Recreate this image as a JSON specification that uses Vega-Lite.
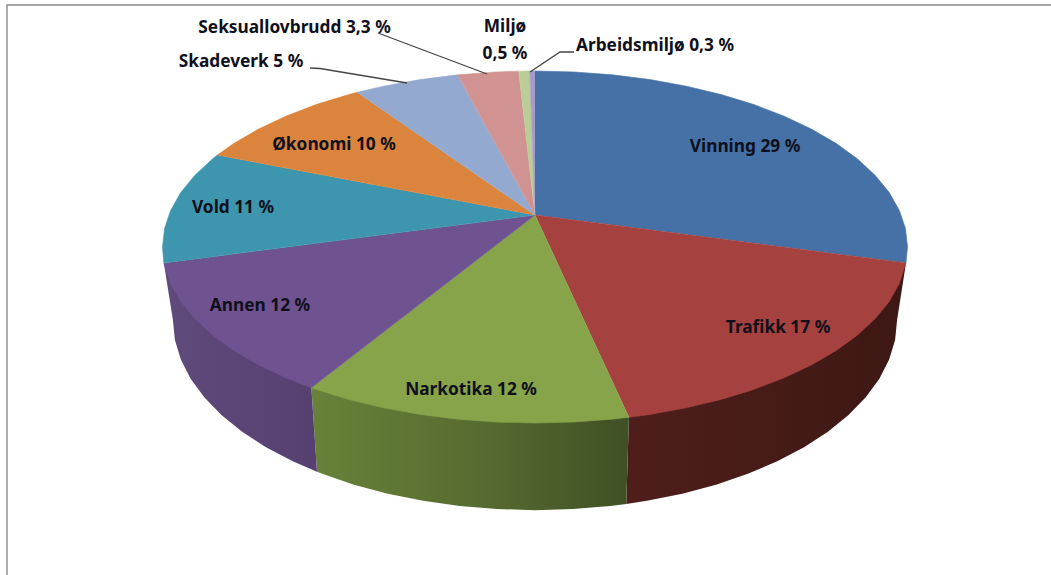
{
"$schema":"https://vega.github.io/schema/vega-lite/v6.json",
"width":1051,"height":575,"padding":0,"autosize":{"type":"none"},
"background":"white","config":{"view":{"stroke":null}},
"datasets":{
"skiver":[
{"kategori":"Vinning","del":"topp","n":0,"x":0,"y":0.1818},{"kategori":"Vinning","del":"topp","n":1,"x":0,"y":1},{"kategori":"Vinning","del":"topp","n":2,"x":0.1045,"y":0.9945},{"kategori":"Vinning","del":"topp","n":3,"x":0.2079,"y":0.9781},{"kategori":"Vinning","del":"topp","n":4,"x":0.309,"y":0.9511},{"kategori":"Vinning","del":"topp","n":5,"x":0.4067,"y":0.9135},{"kategori":"Vinning","del":"topp","n":6,"x":0.5,"y":0.866},{"kategori":"Vinning","del":"topp","n":7,"x":0.5878,"y":0.809},{"kategori":"Vinning","del":"topp","n":8,"x":0.6691,"y":0.7431},{"kategori":"Vinning","del":"topp","n":9,"x":0.7431,"y":0.6691},{"kategori":"Vinning","del":"topp","n":10,"x":0.809,"y":0.5878},{"kategori":"Vinning","del":"topp","n":11,"x":0.866,"y":0.5},{"kategori":"Vinning","del":"topp","n":12,"x":0.9135,"y":0.4067},{"kategori":"Vinning","del":"topp","n":13,"x":0.9511,"y":0.309},{"kategori":"Vinning","del":"topp","n":14,"x":0.9781,"y":0.2079},{"kategori":"Vinning","del":"topp","n":15,"x":0.9945,"y":0.1045},{"kategori":"Vinning","del":"topp","n":16,"x":1,"y":0},{"kategori":"Vinning","del":"topp","n":17,"x":0.9959,"y":-0.0906},
{"kategori":"Trafikk","del":"topp","n":0,"x":0,"y":0.1818},{"kategori":"Trafikk","del":"topp","n":1,"x":0.9959,"y":-0.0906},{"kategori":"Trafikk","del":"topp","n":2,"x":0.9781,"y":-0.2079},{"kategori":"Trafikk","del":"topp","n":3,"x":0.9511,"y":-0.309},{"kategori":"Trafikk","del":"topp","n":4,"x":0.9135,"y":-0.4067},{"kategori":"Trafikk","del":"topp","n":5,"x":0.866,"y":-0.5},{"kategori":"Trafikk","del":"topp","n":6,"x":0.809,"y":-0.5878},{"kategori":"Trafikk","del":"topp","n":7,"x":0.7431,"y":-0.6691},{"kategori":"Trafikk","del":"topp","n":8,"x":0.6691,"y":-0.7431},{"kategori":"Trafikk","del":"topp","n":9,"x":0.5878,"y":-0.809},{"kategori":"Trafikk","del":"topp","n":10,"x":0.5,"y":-0.866},{"kategori":"Trafikk","del":"topp","n":11,"x":0.4067,"y":-0.9135},{"kategori":"Trafikk","del":"topp","n":12,"x":0.309,"y":-0.9511},{"kategori":"Trafikk","del":"topp","n":13,"x":0.2521,"y":-0.9677},
{"kategori":"Narkotika","del":"topp","n":0,"x":0,"y":0.1818},{"kategori":"Narkotika","del":"topp","n":1,"x":0.2521,"y":-0.9677},{"kategori":"Narkotika","del":"topp","n":2,"x":0.2079,"y":-0.9781},{"kategori":"Narkotika","del":"topp","n":3,"x":0.1045,"y":-0.9945},{"kategori":"Narkotika","del":"topp","n":4,"x":0,"y":-1},{"kategori":"Narkotika","del":"topp","n":5,"x":-0.1045,"y":-0.9945},{"kategori":"Narkotika","del":"topp","n":6,"x":-0.2079,"y":-0.9781},{"kategori":"Narkotika","del":"topp","n":7,"x":-0.309,"y":-0.9511},{"kategori":"Narkotika","del":"topp","n":8,"x":-0.4067,"y":-0.9135},{"kategori":"Narkotika","del":"topp","n":9,"x":-0.5,"y":-0.866},{"kategori":"Narkotika","del":"topp","n":10,"x":-0.5878,"y":-0.809},{"kategori":"Narkotika","del":"topp","n":11,"x":-0.6004,"y":-0.7997},
{"kategori":"Annen","del":"topp","n":0,"x":0,"y":0.1818},{"kategori":"Annen","del":"topp","n":1,"x":-0.6004,"y":-0.7997},{"kategori":"Annen","del":"topp","n":2,"x":-0.6691,"y":-0.7431},{"kategori":"Annen","del":"topp","n":3,"x":-0.7431,"y":-0.6691},{"kategori":"Annen","del":"topp","n":4,"x":-0.809,"y":-0.5878},{"kategori":"Annen","del":"topp","n":5,"x":-0.866,"y":-0.5},{"kategori":"Annen","del":"topp","n":6,"x":-0.9135,"y":-0.4067},{"kategori":"Annen","del":"topp","n":7,"x":-0.9511,"y":-0.309},{"kategori":"Annen","del":"topp","n":8,"x":-0.9781,"y":-0.2079},{"kategori":"Annen","del":"topp","n":9,"x":-0.9964,"y":-0.0906},
{"kategori":"Vold","del":"topp","n":0,"x":0,"y":0.1818},{"kategori":"Vold","del":"topp","n":1,"x":-0.9964,"y":-0.0906},{"kategori":"Vold","del":"topp","n":2,"x":-1,"y":0},{"kategori":"Vold","del":"topp","n":3,"x":-0.9945,"y":0.1045},{"kategori":"Vold","del":"topp","n":4,"x":-0.9781,"y":0.2079},{"kategori":"Vold","del":"topp","n":5,"x":-0.9511,"y":0.309},{"kategori":"Vold","del":"topp","n":6,"x":-0.9135,"y":0.4067},{"kategori":"Vold","del":"topp","n":7,"x":-0.866,"y":0.5},{"kategori":"Vold","del":"topp","n":8,"x":-0.8526,"y":0.5225},
{"kategori":"Økonomi","del":"topp","n":0,"x":0,"y":0.1818},{"kategori":"Økonomi","del":"topp","n":1,"x":-0.8526,"y":0.5225},{"kategori":"Økonomi","del":"topp","n":2,"x":-0.809,"y":0.5878},{"kategori":"Økonomi","del":"topp","n":3,"x":-0.7431,"y":0.6691},{"kategori":"Økonomi","del":"topp","n":4,"x":-0.6691,"y":0.7431},{"kategori":"Økonomi","del":"topp","n":5,"x":-0.5878,"y":0.809},{"kategori":"Økonomi","del":"topp","n":6,"x":-0.5,"y":0.866},{"kategori":"Økonomi","del":"topp","n":7,"x":-0.4772,"y":0.8788},
{"kategori":"Skadeverk","del":"topp","n":0,"x":0,"y":0.1818},{"kategori":"Skadeverk","del":"topp","n":1,"x":-0.4772,"y":0.8788},{"kategori":"Skadeverk","del":"topp","n":2,"x":-0.4067,"y":0.9135},{"kategori":"Skadeverk","del":"topp","n":3,"x":-0.309,"y":0.9511},{"kategori":"Skadeverk","del":"topp","n":4,"x":-0.2079,"y":0.9781},
{"kategori":"Seksuallovbrudd","del":"topp","n":0,"x":0,"y":0.1818},{"kategori":"Seksuallovbrudd","del":"topp","n":1,"x":-0.2079,"y":0.9781},{"kategori":"Seksuallovbrudd","del":"topp","n":2,"x":-0.1045,"y":0.9945},{"kategori":"Seksuallovbrudd","del":"topp","n":3,"x":-0.0436,"y":0.999},
{"kategori":"Miljø","del":"topp","n":0,"x":0,"y":0.1818},{"kategori":"Miljø","del":"topp","n":1,"x":-0.0436,"y":0.999},{"kategori":"Miljø","del":"topp","n":2,"x":-0.014,"y":1},
{"kategori":"Arbeidsmiljø","del":"topp","n":0,"x":0,"y":0.1818},{"kategori":"Arbeidsmiljø","del":"topp","n":1,"x":-0.014,"y":1},{"kategori":"Arbeidsmiljø","del":"topp","n":2,"x":0,"y":1},
{"kategori":"Trafikk","del":"side","n":0,"x":0.9959,"y":-0.0906},{"kategori":"Trafikk","del":"side","n":1,"x":0.972,"y":-0.415},{"kategori":"Trafikk","del":"side","n":2,"x":0.9667,"y":-0.5279},{"kategori":"Trafikk","del":"side","n":3,"x":0.9507,"y":-0.6395},{"kategori":"Trafikk","del":"side","n":4,"x":0.9245,"y":-0.7487},{"kategori":"Trafikk","del":"side","n":5,"x":0.8879,"y":-0.8542},{"kategori":"Trafikk","del":"side","n":6,"x":0.8418,"y":-0.955},{"kategori":"Trafikk","del":"side","n":7,"x":0.7863,"y":-1.0498},{"kategori":"Trafikk","del":"side","n":8,"x":0.7223,"y":-1.1376},{"kategori":"Trafikk","del":"side","n":9,"x":0.6504,"y":-1.2175},{"kategori":"Trafikk","del":"side","n":10,"x":0.5713,"y":-1.2887},{"kategori":"Trafikk","del":"side","n":11,"x":0.486,"y":-1.3503},{"kategori":"Trafikk","del":"side","n":12,"x":0.3953,"y":-1.4016},{"kategori":"Trafikk","del":"side","n":13,"x":0.3003,"y":-1.4422},{"kategori":"Trafikk","del":"side","n":14,"x":0.245,"y":-1.4601},{"kategori":"Trafikk","del":"side","n":15,"x":0.2521,"y":-0.9677},
{"kategori":"Narkotika","del":"side","n":0,"x":0.2521,"y":-0.9677},{"kategori":"Narkotika","del":"side","n":1,"x":0.245,"y":-1.4601},{"kategori":"Narkotika","del":"side","n":2,"x":0.2021,"y":-1.4713},{"kategori":"Narkotika","del":"side","n":3,"x":0.1016,"y":-1.489},{"kategori":"Narkotika","del":"side","n":4,"x":0,"y":-1.495},{"kategori":"Narkotika","del":"side","n":5,"x":-0.1016,"y":-1.489},{"kategori":"Narkotika","del":"side","n":6,"x":-0.2021,"y":-1.4713},{"kategori":"Narkotika","del":"side","n":7,"x":-0.3003,"y":-1.4422},{"kategori":"Narkotika","del":"side","n":8,"x":-0.3953,"y":-1.4016},{"kategori":"Narkotika","del":"side","n":9,"x":-0.486,"y":-1.3503},{"kategori":"Narkotika","del":"side","n":10,"x":-0.5713,"y":-1.2887},{"kategori":"Narkotika","del":"side","n":11,"x":-0.5852,"y":-1.2768},{"kategori":"Narkotika","del":"side","n":12,"x":-0.6004,"y":-0.7997},
{"kategori":"Annen","del":"side","n":0,"x":-0.6004,"y":-0.7997},{"kategori":"Annen","del":"side","n":1,"x":-0.5852,"y":-1.2768},{"kategori":"Annen","del":"side","n":2,"x":-0.6504,"y":-1.2175},{"kategori":"Annen","del":"side","n":3,"x":-0.7223,"y":-1.1376},{"kategori":"Annen","del":"side","n":4,"x":-0.7863,"y":-1.0498},{"kategori":"Annen","del":"side","n":5,"x":-0.8418,"y":-0.955},{"kategori":"Annen","del":"side","n":6,"x":-0.8879,"y":-0.8542},{"kategori":"Annen","del":"side","n":7,"x":-0.9245,"y":-0.7487},{"kategori":"Annen","del":"side","n":8,"x":-0.9507,"y":-0.6395},{"kategori":"Annen","del":"side","n":9,"x":-0.9667,"y":-0.5279},{"kategori":"Annen","del":"side","n":10,"x":-0.972,"y":-0.415},{"kategori":"Annen","del":"side","n":11,"x":-0.9964,"y":-0.0906}
],
"etiketter":[
{"kategori":"Vinning","andel":29,"tekst":"Vinning 29 %","x":0.5638,"y":0.5682},
{"kategori":"Trafikk","andel":17,"tekst":"Trafikk 17 %","x":0.6523,"y":-0.4602},
{"kategori":"Narkotika","andel":12,"tekst":"Narkotika 12 %","x":-0.1718,"y":-0.8125},
{"kategori":"Annen","andel":12,"tekst":"Annen 12 %","x":-0.7383,"y":-0.3352},
{"kategori":"Vold","andel":11,"tekst":"Vold 11 %","x":-0.8107,"y":0.2216},
{"kategori":"Økonomi","andel":10,"tekst":"Økonomi 10 %","x":-0.5396,"y":0.5795},
{"kategori":"Skadeverk","andel":5,"tekst":"Skadeverk 5 %","x":-0.7893,"y":1.0511},
{"kategori":"Seksuallovbrudd","andel":3.3,"tekst":"Seksuallovbrudd 3,3 %","x":-0.6456,"y":1.2443},
{"kategori":"Miljø","andel":0.5,"tekst":"Miljø","x":-0.0805,"y":1.25},
{"kategori":"Miljø","andel":0.5,"tekst":"0,5 %","x":-0.0805,"y":1.0966},
{"kategori":"Arbeidsmiljø","andel":0.3,"tekst":"Arbeidsmiljø 0,3 %","x":0.3221,"y":1.142}
],
"linjer":[
{"kategori":"Skadeverk","n":0,"x":-0.604,"y":1.017},{"kategori":"Skadeverk","n":1,"x":-0.5772,"y":1.0142},{"kategori":"Skadeverk","n":2,"x":-0.3436,"y":0.9318},
{"kategori":"Seksuallovbrudd","n":0,"x":-0.4215,"y":1.2159},{"kategori":"Seksuallovbrudd","n":1,"x":-0.1289,"y":0.983},
{"kategori":"Arbeidsmiljø","n":0,"x":-0.0134,"y":0.9943},{"kategori":"Arbeidsmiljø","n":1,"x":0.0671,"y":1.108},{"kategori":"Arbeidsmiljø","n":2,"x":0.1047,"y":1.108}
],
"ramme":[
{"n":0,"x":-1.4174,"y":-1.8636},{"n":1,"x":-1.4174,"y":1.375},{"n":2,"x":1.3852,"y":1.375}
]
},
"encoding":{
"x":{"field":"x","type":"quantitative","scale":{"domain":[-1.4362,1.3852]},"axis":null},
"y":{"field":"y","type":"quantitative","scale":{"domain":[-1.8636,1.4034]},"axis":null},
"order":{"field":"n","type":"quantitative"}
},
"layer":[
{"data":{"name":"ramme"},"mark":{"type":"line","stroke":"#8a8a8a","strokeWidth":1.4,"clip":true}},
{"data":{"name":"skiver"},"transform":[{"filter":"datum.del==='side' && datum.kategori==='Trafikk'"}],
"mark":{"type":"line","strokeWidth":0,"stroke":null,"fill":{"gradient":"linear","x1":0,"y1":0,"x2":1,"y2":0,"stops":[{"offset":0,"color":"#4f1e1b"},{"offset":1,"color":"#3d1814"}]}}},
{"data":{"name":"skiver"},"transform":[{"filter":"datum.del==='side' && datum.kategori==='Narkotika'"}],
"mark":{"type":"line","strokeWidth":0,"stroke":null,"fill":{"gradient":"linear","x1":0,"y1":0,"x2":1,"y2":0,"stops":[{"offset":0,"color":"#68823a"},{"offset":0.55,"color":"#566b30"},{"offset":1,"color":"#3f5025"}]}}},
{"data":{"name":"skiver"},"transform":[{"filter":"datum.del==='side' && datum.kategori==='Annen'"}],
"mark":{"type":"line","strokeWidth":0,"stroke":null,"fill":{"gradient":"linear","x1":0,"y1":0,"x2":1,"y2":0,"stops":[{"offset":0,"color":"#5f4a7c"},{"offset":1,"color":"#564070"}]}}},
{"data":{"name":"skiver"},"transform":[{"filter":"datum.del==='topp'"}],
"mark":{"type":"line","strokeWidth":0.6},
"encoding":{
"fill":{"field":"kategori","type":"nominal","legend":null,"scale":{"domain":["Vinning","Trafikk","Narkotika","Annen","Vold","Økonomi","Skadeverk","Seksuallovbrudd","Miljø","Arbeidsmiljø"],"range":["#4571A6","#A5423F","#87A44A","#6F5290","#3D96AE","#DB843D","#93A9D0","#D19392","#B9CD96","#A99BC7"]}},
"stroke":{"field":"kategori","type":"nominal","legend":null,"scale":{"domain":["Vinning","Trafikk","Narkotika","Annen","Vold","Økonomi","Skadeverk","Seksuallovbrudd","Miljø","Arbeidsmiljø"],"range":["#4571A6","#A5423F","#87A44A","#6F5290","#3D96AE","#DB843D","#93A9D0","#D19392","#B9CD96","#A99BC7"]}},
"detail":{"field":"kategori"}
}},
{"data":{"name":"linjer"},"mark":{"type":"line","stroke":"#444444","strokeWidth":1.3},"encoding":{"detail":{"field":"kategori"}}},
{"data":{"name":"etiketter"},"mark":{"type":"text","font":"Noto Sans","fontWeight":"bold","fontSize":17.3,"color":"#10101c","align":"center","baseline":"middle"},"encoding":{"text":{"field":"tekst"},"order":null}}
]
}
